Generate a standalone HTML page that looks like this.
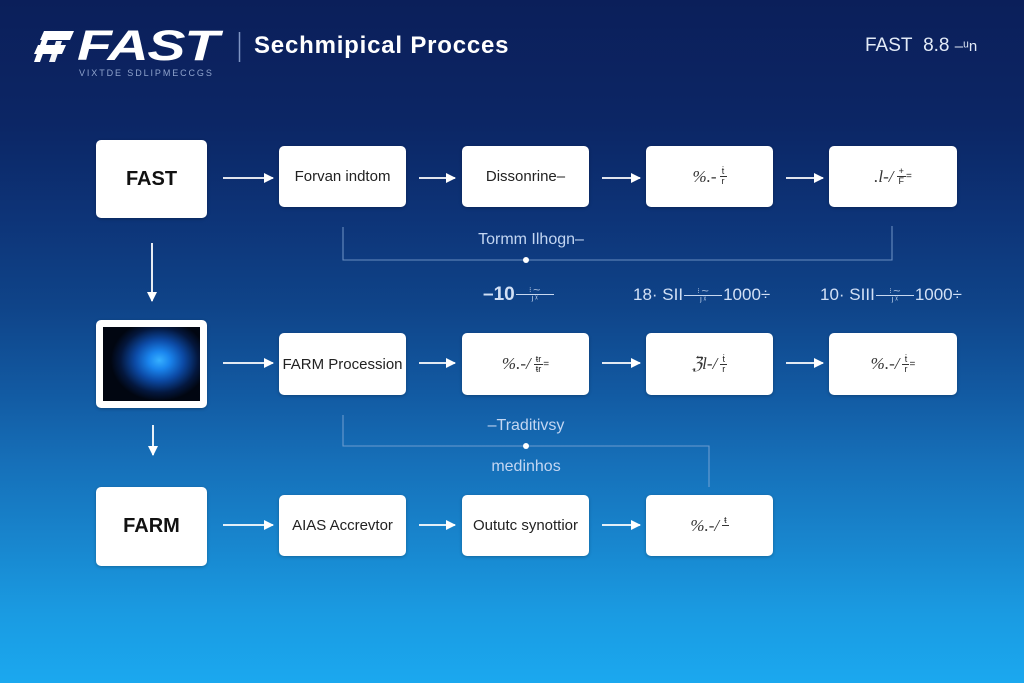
<!DOCTYPE html>
<html><head><meta charset="utf-8">
<style>
*{margin:0;padding:0;box-sizing:border-box}
html,body{width:1024px;height:683px;overflow:hidden}
body{position:relative;font-family:"Liberation Sans",sans-serif;
background:linear-gradient(180deg,#0b1f5a 0%,#0c2665 18%,#0d3478 32%,#0f4489 45%,#1259a1 57%,#1670b9 68%,#1887cf 80%,#1a9be2 90%,#1ba8ef 100%);}
.abs{position:absolute}
.box{position:absolute;background:#fff;border-radius:5px;display:flex;align-items:center;justify-content:center;color:#222;font-size:15px;white-space:nowrap;box-shadow:0 1px 3px rgba(0,0,0,.25)}
.big{font-weight:bold;font-size:20px;color:#111}
.frac{display:inline-block;vertical-align:middle;text-align:center;font-size:9px;line-height:9px;margin-left:3px}
.frac i{display:block;font-style:normal;padding:0 2px}
.frac i:first-child{border-bottom:1.3px solid #333}
.sym{font-family:"Liberation Serif",serif;font-style:italic;font-size:17px;color:#333}
.lbl{position:absolute;color:#c3d6f2;font-size:16px;white-space:nowrap;transform:translateX(-50%)}
.num{position:absolute;color:#d2e0f5;font-size:17px;white-space:nowrap}
.sfrac{display:inline-block;vertical-align:middle;font-size:7px;line-height:7px;text-align:center;width:38px;margin:0 1px}
.sfrac i{display:block;font-style:normal}
.sfrac i:first-child{border-bottom:1px solid #c8d8f0}
</style></head><body>

<!-- header -->
<svg class="abs" style="left:0;top:0" width="1024" height="100">
  <polygon points="44,31 74,31 70,40 40,40" fill="#fff"/>
  <polygon points="38,45 66,45 62,54 34,54" fill="#fff"/>
  <polygon points="45,31 51,31 40,62 34,62" fill="#fff"/>
  <polygon points="56,41 62,41 55,62 49,62" fill="#fff" opacity=".95"/>
  <line x1="239.5" y1="32" x2="239.5" y2="62" stroke="#7f95c4" stroke-width="1.5"/>
</svg>
<div class="abs" style="left:77px;top:23px;color:#fff;font-size:43px;font-weight:bold;font-style:italic;letter-spacing:-1px;line-height:46px;transform:scaleX(1.33);transform-origin:0 0">FAST</div>
<div class="abs" style="left:79px;top:68px;color:#8fa3cc;font-size:9px;letter-spacing:1.9px;line-height:10px">VIXTDE SDLIPMECCGS</div>
<div class="abs" style="left:254px;top:32px;color:#fff;font-size:24px;font-weight:bold;line-height:28px;letter-spacing:0.8px">Sechmipical Procces</div>
<div class="abs" style="left:865px;top:35px;color:#e3ebf7;font-size:19px;line-height:22px">FAST&nbsp; 8.8 <span style="font-size:15px">–ᵘn</span></div>

<!-- lines & arrows -->
<svg class="abs" style="left:0;top:0" width="1024" height="683">
  <defs>
    <marker id="ah" markerWidth="10" markerHeight="10" refX="9" refY="5" orient="auto" markerUnits="userSpaceOnUse">
      <polygon points="0,0 10,5 0,10" fill="#fff"/>
    </marker>
  </defs>
  <g stroke="#fff" stroke-width="1.8" marker-end="url(#ah)">
    <line x1="223" y1="178" x2="273" y2="178"/>
    <line x1="419" y1="178" x2="455" y2="178"/>
    <line x1="602" y1="178" x2="640" y2="178"/>
    <line x1="786" y1="178" x2="823" y2="178"/>
    <line x1="223" y1="363" x2="273" y2="363"/>
    <line x1="419" y1="363" x2="455" y2="363"/>
    <line x1="602" y1="363" x2="640" y2="363"/>
    <line x1="786" y1="363" x2="823" y2="363"/>
    <line x1="223" y1="525" x2="273" y2="525"/>
    <line x1="419" y1="525" x2="455" y2="525"/>
    <line x1="602" y1="525" x2="640" y2="525"/>
    <line x1="152" y1="243" x2="152" y2="301"/>
    <line x1="153" y1="425" x2="153" y2="455"/>
  </g>
  <g stroke="#8fb0dc" stroke-width="1.1" fill="none" opacity=".7">
    <polyline points="343,227 343,260 892,260 892,226"/>
    <polyline points="343,415 343,446 709,446 709,487"/>
  </g>
  <circle cx="526" cy="260" r="3" fill="#fff"/>
  <circle cx="526" cy="446" r="3" fill="#fff"/>
</svg>

<!-- row 1 -->
<div class="box big" style="left:96px;top:140px;width:111px;height:78px">FAST</div>
<div class="box" style="left:279px;top:146px;width:127px;height:61px">Forvan indtom</div>
<div class="box" style="left:462px;top:146px;width:127px;height:61px">Dissonrine–</div>
<div class="box" style="left:646px;top:146px;width:127px;height:61px"><span class="sym">%.-</span><span class="frac"><i>ṫ</i><i>r</i></span></div>
<div class="box" style="left:829px;top:146px;width:128px;height:61px"><span class="sym">.l-/</span><span class="frac"><i>+</i><i>F</i></span><span style="font-size:10px">=</span></div>

<div class="lbl" style="left:531px;top:231px">Tormm Ilhogn–</div>
<div class="num" style="left:483px;top:284px;font-weight:bold;font-size:19px">–10<span class="sfrac" style="font-weight:normal"><i>⁝ ⁓</i><i>j ᵡ</i></span></div>
<div class="num" style="left:633px;top:285px">18· SΙΙ<span class="sfrac"><i>⁝ ⁓</i><i>j ᵡ</i></span>1000÷</div>
<div class="num" style="left:820px;top:285px">10· SΙΙΙ<span class="sfrac"><i>⁝ ⁓</i><i>j ᵡ</i></span>1000÷</div>

<!-- row 2 -->
<div class="box" style="left:96px;top:320px;width:111px;height:88px;padding:7px">
  <div style="width:100%;height:100%;background:radial-gradient(ellipse 50% 55% at 58% 45%,#36b0ff 0%,#1a85ee 22%,#0c4aa5 50%,#04173d 80%,#010611 100%)"></div>
</div>
<div class="box" style="left:279px;top:333px;width:127px;height:62px">FARM Procession</div>
<div class="box" style="left:462px;top:333px;width:127px;height:62px"><span class="sym">%.-/</span><span class="frac"><i>ŧr</i><i>ŧr</i></span><span style="font-size:10px">=</span></div>
<div class="box" style="left:646px;top:333px;width:127px;height:62px"><span class="sym">ℨl-/</span><span class="frac"><i>ṫ</i><i>r</i></span></div>
<div class="box" style="left:829px;top:333px;width:128px;height:62px"><span class="sym">%.-/</span><span class="frac"><i>ṫ</i><i>r</i></span><span style="font-size:10px">=</span></div>

<div class="lbl" style="left:526px;top:417px">–Traditivsy</div>
<div class="lbl" style="left:526px;top:458px">medinhos</div>

<!-- row 3 -->
<div class="box big" style="left:96px;top:487px;width:111px;height:79px">FARM</div>
<div class="box" style="left:279px;top:495px;width:127px;height:61px">AIAS Accrevtor</div>
<div class="box" style="left:462px;top:495px;width:127px;height:61px">Oututc synottior</div>
<div class="box" style="left:646px;top:495px;width:127px;height:61px"><span class="sym">%.-/</span><span class="frac"><i>ŧ</i><i>&nbsp;</i></span></div>

</body></html>
